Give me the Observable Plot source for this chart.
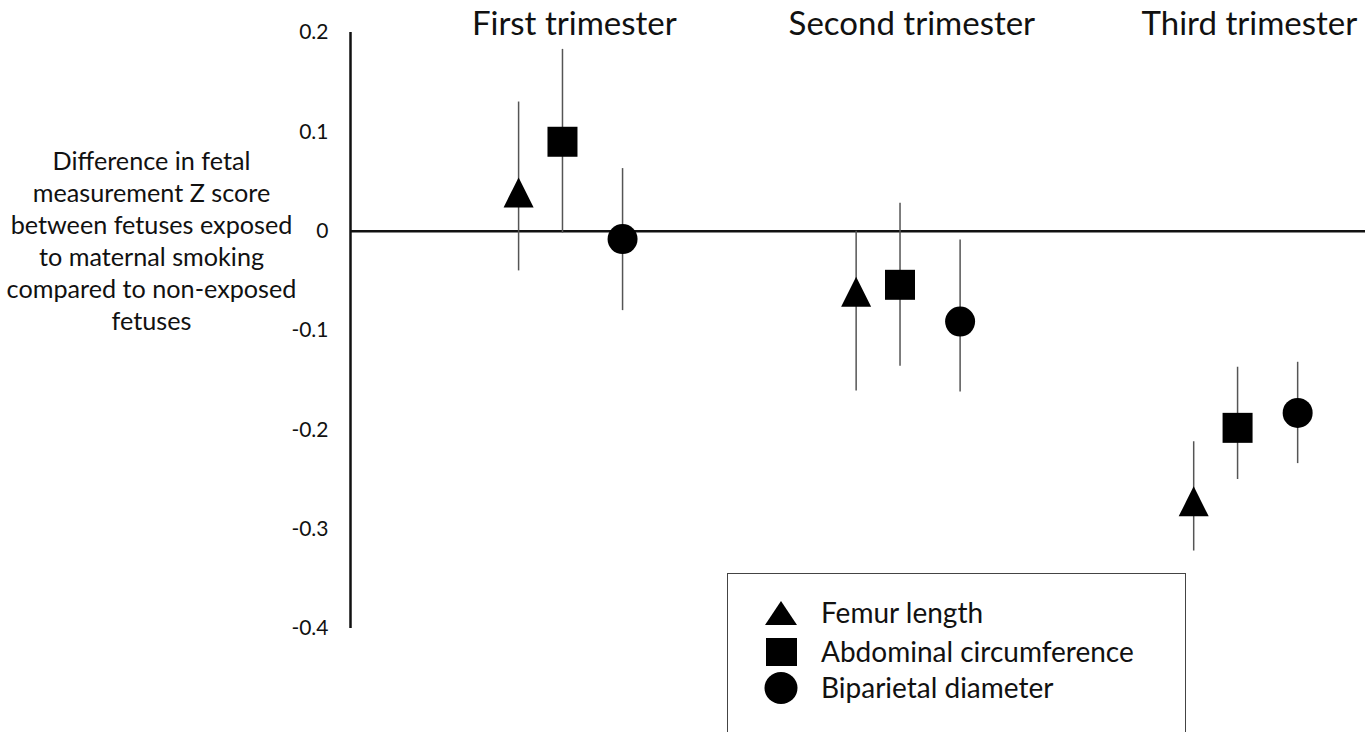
<!DOCTYPE html>
<html>
<head>
<meta charset="utf-8">
<script src="https://cdn.jsdelivr.net/npm/d3@7"></script>
<script src="https://cdn.jsdelivr.net/npm/@observablehq/plot@0.6"></script>
<style>
  html, body { margin: 0; padding: 0; background: #fff; overflow: hidden; }
  #wrap { position: relative; width: 1369px; height: 732px; font-family: Lato, "DejaVu Sans", sans-serif; }
  #legend { position: absolute; left: 727px; top: 573px; width: 459px; height: 200px; border: 1.5px solid #444; box-sizing: border-box; background: #fff; }
  .row { position: absolute; left: 0; height: 36px; }
  .row svg { position: absolute; left: 36px; }
  .row span { position: absolute; left: 93px; font-size: 28px; color: #111; white-space: nowrap; line-height: 36px; top: -1px; }
</style>
</head>
<body>
<div id="wrap"></div>
<script>
// ---- data ----
const trimesters = ["First trimester", "Second trimester", "Third trimester"];
const measures = ["Femur length", "Abdominal circumference", "Biparietal diameter"];

const femurEst = [0.039, -0.061, -0.272];
const femurLo  = [-0.040, -0.161, -0.322];
const femurHi  = [0.130, 0.000, -0.212];

const acEst = [0.090, -0.054, -0.198];
const acLo  = [-0.002, -0.136, -0.250];
const acHi  = [0.183, 0.028, -0.137];

const bpdEst = [-0.008, -0.091, -0.183];
const bpdLo  = [-0.080, -0.162, -0.234];
const bpdHi  = [0.063, -0.009, -0.132];

const yTicks = [0.2, 0.1, 0, -0.1, -0.2, -0.3, -0.4];
const yLabel = "Difference in fetal\nmeasurement Z score\nbetween fetuses exposed\nto maternal smoking\ncompared to non-exposed\nfetuses";

// ---- build table ----
const series = [
  {measure: measures[0], est: femurEst, lo: femurLo, hi: femurHi},
  {measure: measures[1], est: acEst, lo: acLo, hi: acHi},
  {measure: measures[2], est: bpdEst, lo: bpdLo, hi: bpdHi}
];
const dodge = {"Femur length": -0.13, "Abdominal circumference": 0, "Biparietal diameter": 0.178};
const rows = [];
series.forEach(s => trimesters.forEach((t, i) => rows.push({
  trimester: t, group: i + 1, measure: s.measure, est: s.est[i], lo: s.lo[i], hi: s.hi[i]
})));
const xOf = d => d.group + dodge[d.measure];
const xDomain = [0.372, 3.379];

// custom, bounding-box-centred symbols
const tri = {draw(ctx, size) { const h = Math.sqrt(size / Math.PI); ctx.moveTo(0, -h); ctx.lineTo(h, h); ctx.lineTo(-h, h); ctx.closePath(); }};
const sq  = {draw(ctx, size) { const h = Math.sqrt(size / Math.PI); ctx.rect(-h, -h, 2 * h, 2 * h); }};
const circ = {draw(ctx, size) { const h = Math.sqrt(size / Math.PI); ctx.moveTo(h, 0); ctx.arc(0, 0, h, 0, 2 * Math.PI); }};

const chart = Plot.plot({
  width: 1369,
  height: 732,
  marginLeft: 350,
  marginRight: 4,
  marginTop: 32,
  marginBottom: 104,
  style: {fontFamily: "Lato, 'DejaVu Sans', sans-serif", color: "#111", background: "transparent"},
  x: {domain: xDomain, axis: null},
  y: {domain: [-0.4, 0.2]},
  symbol: {domain: measures, range: [tri, sq, circ]},
  marks: [
    Plot.axisY({ticks: yTicks, tickSize: 0, tickPadding: 22, fontSize: 21, label: null,
      tickFormat: d => String(+d.toFixed(1))}),
    Plot.ruleX([xDomain[0]], {stroke: "#111", strokeWidth: 2.5}),
    Plot.ruleY([0], {stroke: "#111", strokeWidth: 2.5}),
    Plot.ruleX(rows, {x: xOf, y1: "lo", y2: "hi", stroke: "#555", strokeWidth: 1.5}),
    Plot.dot(rows, {x: xOf, y: "est", symbol: "measure", r: 15, fill: "#000", stroke: "none"}),
    Plot.text(trimesters, {x: (d, i) => i + 1 + 0.035, frameAnchor: "top", dy: -8, lineAnchor: "middle",
      text: d => d, fontSize: 33, fill: "#111"}),
    Plot.text([yLabel], {frameAnchor: "left", dx: -199, dy: -91, textAnchor: "middle", lineAnchor: "middle",
      lineHeight: 32 / 25.2, fontSize: 25.2, fill: "#111", text: d => d})
  ]
});
document.getElementById("wrap").appendChild(chart);

// ---- legend (HTML, drawn from the measures list) ----
const legend = d3.select("#wrap").append("div").attr("id", "legend");
const rowTop = [21, 60, 96];
const shapes = [
  g => g.append("polygon").attr("points", "17,5 33,29 1,29"),
  g => g.append("rect").attr("x", 2).attr("y", 3).attr("width", 31).attr("height", 28),
  g => g.append("ellipse").attr("cx", 17).attr("cy", 17).attr("rx", 16.5).attr("ry", 16)
];
measures.forEach((m, i) => {
  const r = legend.append("div").attr("class", "row").style("top", rowTop[i] + "px");
  const s = r.append("svg").attr("width", 34).attr("height", 34).style("top", "1px");
  shapes[i](s).attr("fill", "#000");
  r.append("span").text(m);
});
</script>
</body>
</html>
